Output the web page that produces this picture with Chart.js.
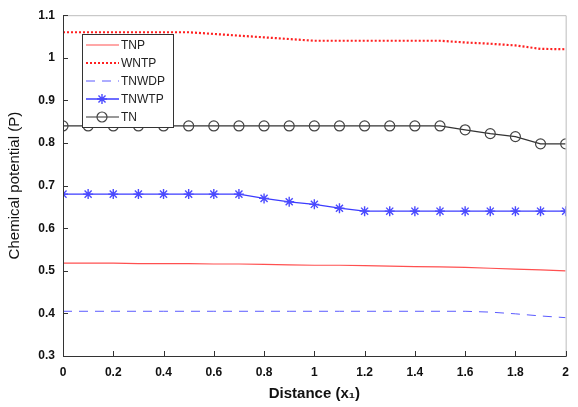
<!DOCTYPE html>
<html>
<head>
<meta charset="utf-8">
<script src="https://cdn.jsdelivr.net/npm/chart.js@4"></script>
<style>
  html, body { margin: 0; padding: 0; background: #fff; }
  #wrap { width: 578px; height: 407px; position: relative; }
</style>
</head>
<body>
<div id="wrap"><canvas id="chart" width="578" height="407"></canvas></div>
<script>
// Distance values (x1)
const distance = [0, 0.1, 0.2, 0.3, 0.4, 0.5, 0.6, 0.7, 0.8, 0.9, 1.0,
                  1.1, 1.2, 1.3, 1.4, 1.5, 1.6, 1.7, 1.8, 1.9, 2.0];

// Series
const tnp   = [0.518, 0.518, 0.518, 0.517, 0.517, 0.517, 0.516, 0.516, 0.515, 0.514, 0.513,
               0.513, 0.512, 0.511, 0.510, 0.509, 0.508, 0.506, 0.504, 0.502, 0.500];
const wntp  = [1.06, 1.06, 1.06, 1.06, 1.06, 1.06, 1.056, 1.052, 1.048, 1.044, 1.04,
               1.04, 1.04, 1.04, 1.04, 1.04, 1.036, 1.033, 1.029, 1.021, 1.02];
const tnwdp = [0.405, 0.405, 0.405, 0.405, 0.405, 0.405, 0.405, 0.405, 0.405, 0.405, 0.405,
               0.405, 0.405, 0.405, 0.405, 0.405, 0.405, 0.403, 0.399, 0.394, 0.390];
const tnwtp = [0.68, 0.68, 0.68, 0.68, 0.68, 0.68, 0.68, 0.68, 0.670, 0.662, 0.656,
               0.647, 0.64, 0.64, 0.64, 0.64, 0.64, 0.64, 0.64, 0.64, 0.64];
const tn    = [0.84, 0.84, 0.84, 0.84, 0.84, 0.84, 0.84, 0.84, 0.84, 0.84, 0.84,
               0.84, 0.84, 0.84, 0.84, 0.84, 0.831, 0.822, 0.815, 0.798, 0.798];

const xTicks = [0, 0.2, 0.4, 0.6, 0.8, 1, 1.2, 1.4, 1.6, 1.8, 2];
const yTicks = [0.3, 0.4, 0.5, 0.6, 0.7, 0.8, 0.9, 1, 1.1];

const tickFont = { family: '"Liberation Sans Narrow", "Liberation Sans", Arial, sans-serif', size: 12, weight: 'bold' };

function pts(ys) {
    return distance.map((x, i) => ({ x: x, y: ys[i] }));
}

// MATLAB-like frame with inward tick marks
const framePlugin = {
    id: 'frame',
    afterDatasetsDraw(chart) {
        const { ctx, chartArea: a, scales } = chart;
        ctx.save();
        ctx.lineWidth = 1;
        ctx.strokeStyle = '#bdbdbd';
        ctx.beginPath();
        ctx.moveTo(a.left, a.top + 0.5);
        ctx.lineTo(a.right + 0.5, a.top + 0.5);
        ctx.lineTo(a.right + 0.5, a.bottom);
        ctx.stroke();
        ctx.strokeStyle = '#333';
        ctx.beginPath();
        ctx.moveTo(a.left + 0.5, a.top);
        ctx.lineTo(a.left + 0.5, a.bottom + 0.5);
        ctx.lineTo(a.right + 1, a.bottom + 0.5);
        ctx.stroke();
        ctx.beginPath();
        xTicks.forEach(v => {
            const px = Math.round(scales.x.getPixelForValue(v)) + 0.5;
            ctx.moveTo(px, a.bottom);
            ctx.lineTo(px, a.bottom - 5);
        });
        yTicks.forEach(v => {
            const py = Math.round(scales.y.getPixelForValue(v)) + 0.5;
            ctx.moveTo(a.left, py);
            ctx.lineTo(a.left + 5, py);
        });
        ctx.stroke();
        ctx.restore();
    }
};

// Legend box inside the plot, top-left
const legendPlugin = {
    id: 'boxLegend',
    afterDraw(chart) {
        const { ctx } = chart;
        const bx = 82, by = 34, bw = 91, bh = 93;
        ctx.save();
        ctx.fillStyle = '#fff';
        ctx.fillRect(bx, by, bw, bh);
        ctx.strokeStyle = '#333';
        ctx.lineWidth = 1;
        ctx.strokeRect(bx + 0.5, by + 0.5, bw, bh);
        chart.data.datasets.forEach((ds, i) => {
            const y = by + 11 + i * 18;
            ctx.strokeStyle = ds.borderColor;
            ctx.lineWidth = ds.borderWidth;
            ctx.setLineDash(ds.borderDash || []);
            ctx.beginPath();
            ctx.moveTo(bx + 4, y);
            ctx.lineTo(bx + 37, y);
            ctx.stroke();
            ctx.setLineDash([]);
            if (ds.pointStyle && ds.pointRadius > 0) {
                ctx.fillStyle = ds.pointBackgroundColor;
                ctx.strokeStyle = ds.pointBorderColor;
                ctx.lineWidth = ds.pointBorderWidth;
                Chart.helpers.drawPoint(ctx, {
                    pointStyle: ds.pointStyle,
                    radius: ds.pointRadius,
                    borderWidth: ds.pointBorderWidth,
                    rotation: 0
                }, bx + 20, y);
            }
            ctx.fillStyle = '#222';
            ctx.font = '12px "Liberation Sans", Arial, sans-serif';
            ctx.textBaseline = 'middle';
            ctx.fillText(ds.label, bx + 39, y + 1);
        });
        ctx.restore();
    }
};

const chart = new Chart(document.getElementById('chart').getContext('2d'), {
    type: 'line',
    data: {
        datasets: [
            { label: 'TNP', data: pts(tnp), borderColor: '#ff5050', borderWidth: 1.2, pointRadius: 0 },
            { label: 'WNTP', data: pts(wntp), borderColor: '#ff2020', borderWidth: 2.2, borderDash: [2, 2], pointRadius: 0 },
            { label: 'TNWDP', data: pts(tnwdp), borderColor: '#5a5aff', borderWidth: 1, borderDash: [9, 7], pointRadius: 0 },
            { label: 'TNWTP', data: pts(tnwtp), borderColor: '#3c3cff', borderWidth: 1.3, pointStyle: 'star', pointRadius: 5,
              pointBorderColor: '#4a4aff', pointBackgroundColor: '#4a4aff', pointBorderWidth: 1.4 },
            { label: 'TN', data: pts(tn), borderColor: '#333', borderWidth: 1.2, pointStyle: 'circle', pointRadius: 5,
              pointBorderColor: '#444', pointBackgroundColor: 'rgba(255,255,255,0)', pointBorderWidth: 1.2 }
        ]
    },
    options: {
        responsive: false,
        animation: false,
        layout: { padding: { top: 14, right: 2, left: 0, bottom: 0 } },
        plugins: { legend: { display: false }, tooltip: { enabled: false } },
        elements: { line: { tension: 0 } },
        scales: {
            x: {
                type: 'linear', min: 0, max: 2,
                grid: { display: false, drawTicks: false },
                border: { display: false },
                afterBuildTicks: axis => { axis.ticks = xTicks.map(v => ({ value: v })); },
                afterFit: axis => { axis.height = 51; },
                ticks: { color: '#111', font: tickFont, padding: 9, maxRotation: 0, autoSkip: false,
                         callback: v => String(v) },
                title: { display: true, text: 'Distance (x\u2081)', color: '#111', padding: { top: 1 },
                         font: { family: '"Liberation Sans Narrow", "Liberation Sans", Arial, "DejaVu Sans", sans-serif', size: 15, weight: 'bold' } }
            },
            y: {
                type: 'linear', min: 0.3, max: 1.1,
                grid: { display: false, drawTicks: false },
                border: { display: false },
                afterBuildTicks: axis => { axis.ticks = yTicks.map(v => ({ value: v })); },
                afterFit: axis => { axis.width = 63; },
                ticks: { color: '#111', font: tickFont, padding: 8, autoSkip: false,
                         callback: v => String(v) },
                title: { display: true, text: 'Chemical potential (P)', color: '#111', padding: { top: 6, bottom: 0 },
                         font: { family: '"Liberation Sans", Arial, sans-serif', size: 15 } }
            }
        }
    },
    plugins: [framePlugin, legendPlugin]
});
</script>
</body>
</html>
